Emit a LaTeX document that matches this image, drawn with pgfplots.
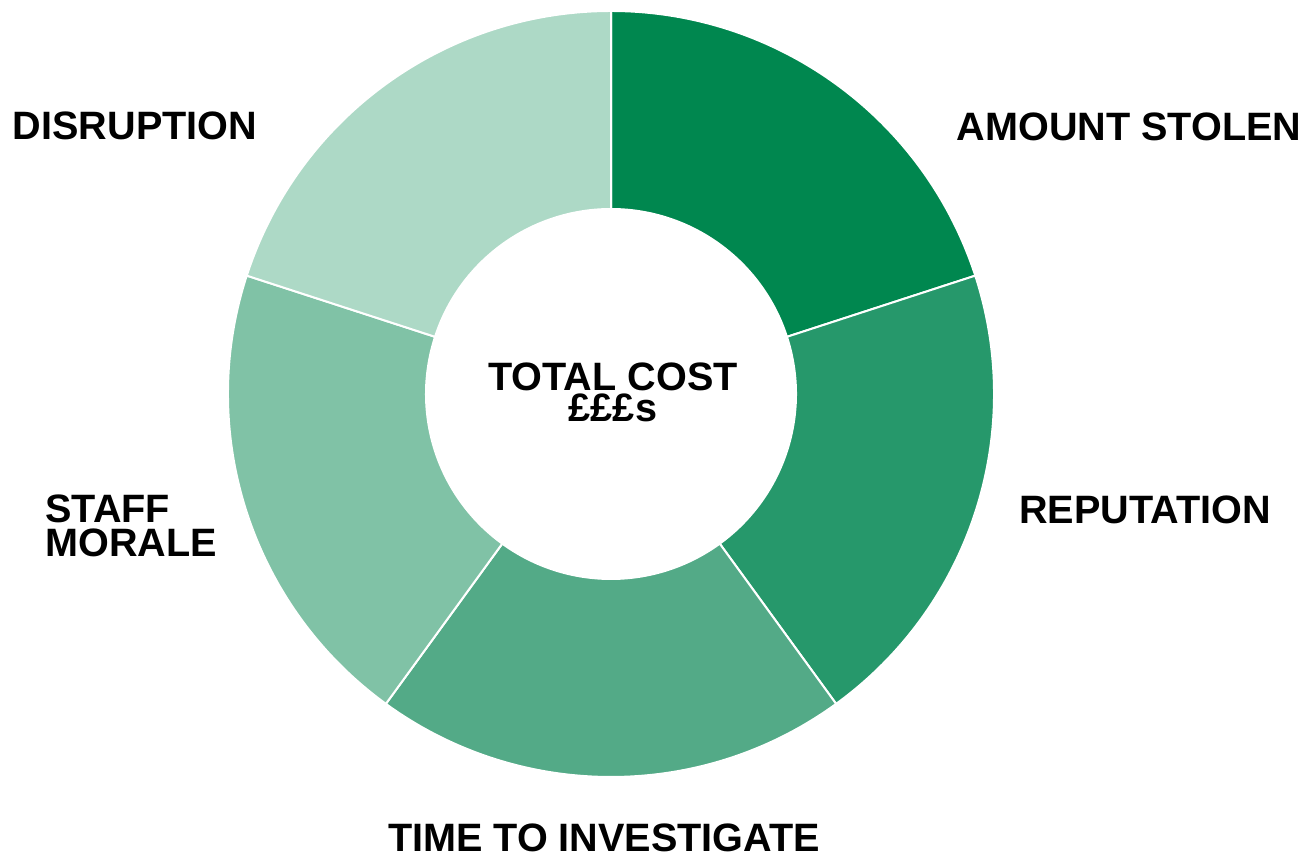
\documentclass[border=0pt]{standalone}
\usepackage{pgfplots}
\pgfplotsset{compat=1.18}
\usepackage{fontspec}
\setmainfont{Liberation Sans}
\definecolor{cA}{HTML}{00874F}
\definecolor{cB}{HTML}{26986B}
\definecolor{cC}{HTML}{53AA87}
\definecolor{cD}{HTML}{80C2A6}
\definecolor{cE}{HTML}{ADD9C6}
% segment shares (equal)
\def\vA{20}\def\vB{20}\def\vC{20}\def\vD{20}\def\vE{20}
\pgfmathsetmacro\tot{\vA+\vB+\vC+\vD+\vE}
\pgfmathsetmacro\aA{90}
\pgfmathsetmacro\aB{\aA-360*\vA/\tot}
\pgfmathsetmacro\aC{\aB-360*\vB/\tot}
\pgfmathsetmacro\aD{\aC-360*\vC/\tot}
\pgfmathsetmacro\aE{\aD-360*\vD/\tot}
\pgfmathsetmacro\aF{\aE-360*\vE/\tot}
\newcommand\seg[3]{%
  \fill[#3, draw=white, line width=1pt] (axis cs:611,462) ++(#1:191.5pt)
    arc[start angle=#1, end angle=#2, radius=191.5pt]
    -- ++(#2:-99pt)
    arc[start angle=#2, end angle=#1, radius=92.5pt] -- cycle;}
\begin{document}
\begin{tikzpicture}
\begin{axis}[
  width=654pt, height=428pt, scale only axis,
  xmin=0, xmax=1308, ymin=0, ymax=856,
  hide axis, clip=false,
]
\addplot[draw=none] coordinates {(0,0) (1308,856)};
\seg{\aA}{\aB}{cA}
\seg{\aB}{\aC}{cB}
\seg{\aC}{\aD}{cC}
\seg{\aD}{\aE}{cD}
\seg{\aE}{\aF}{cE}
\begin{scope}[every node/.style={font=\fontsize{19.8}{17.3}\selectfont\bfseries, inner sep=0pt}]
\node[anchor=base] at (axis cs:1129,715) {AMOUNT STOLEN};
\node[anchor=base] at (axis cs:135,716) {DISRUPTION};
\node[anchor=base] at (axis cs:1145,332) {REPUTATION};
\node[anchor=base] at (axis cs:604,4) {TIME TO INVESTIGATE};
\node[anchor=base west, align=left, font=\fontsize{19.8}{17}\selectfont\bfseries] at (axis cs:45,299) {STAFF\\MORALE};
\node[anchor=base, align=center, font=\fontsize{19.8}{15.5}\selectfont\bfseries] at (axis cs:613,434) {TOTAL COST\\£££s};
\end{scope}
\end{axis}
\end{tikzpicture}
\end{document}
